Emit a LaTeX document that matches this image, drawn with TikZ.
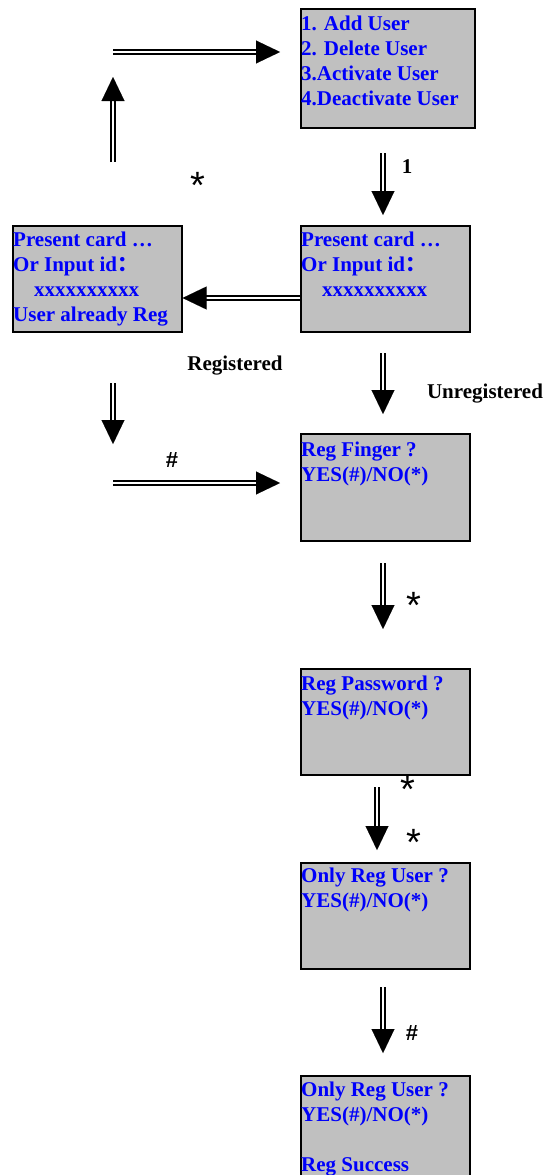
\documentclass[tikz,border=0pt]{standalone}
\usepackage{fontspec}
\setmainfont{Liberation Serif}
\newfontfamily\sansf{Liberation Sans}
\newfontfamily\cjk{Noto Sans CJK SC}
\usetikzlibrary{arrows.meta,calc}
\definecolor{boxgray}{RGB}{192,192,192}
\definecolor{txtblue}{RGB}{0,0,250}
\newcommand{\dblarr}[2]{%
  \draw[shaft, shorten >=21pt] (#1) -- (#2);
  \draw[headtip] ($(#2)!24pt!(#1)$) -- (#2);}
\tikzset{
  box/.style={draw=black, line width=1.6pt, fill=boxgray, anchor=north west, inner sep=0pt},
  boxtext/.style={anchor=base west, inner sep=0pt, align=left, text=txtblue,
    font=\bfseries\fontsize{21}{25}\selectfont},
  shaft/.style={line width=2.2pt, double=white, double distance=2.2pt, draw=black},
  headtip/.style={line width=0.01pt, -{Triangle[length=24pt,width=23pt]}, draw=black, fill=black},
  lbl/.style={inner sep=0pt, font=\bfseries\fontsize{21}{24}\selectfont},
  star/.style={inner sep=0pt, anchor=north, font=\sansf\fontsize{38}{40}\selectfont},
  hash/.style={inner sep=0pt, font=\sansf\bfseries\fontsize{22}{24}\selectfont},
}
\begin{document}
\begin{tikzpicture}[x=1pt,y=-1pt]
\useasboundingbox (0,0) rectangle (547,1175);
% boxes
\node[box, minimum width=174pt, minimum height=119pt] (menu) at (300,8) {};
\node[box, minimum width=169pt, minimum height=106pt] (cardL) at (12,225) {};
\node[box, minimum width=169pt, minimum height=106pt] (cardR) at (300,225) {};
\node[box, minimum width=169pt, minimum height=107pt] (finger) at (300,433) {};
\node[box, minimum width=169pt, minimum height=106pt] (pwd) at (300,668) {};
\node[box, minimum width=169pt, minimum height=106pt] (only) at (300,862) {};
\node[box, minimum width=169pt, minimum height=120pt] (succ) at (300,1075) {};
% box texts (anchored at the baseline of their last line)
\node[boxtext] (tmenu) at (301,105) {1. Add User\\2. Delete User\\3.Activate User\\4.Deactivate User};
\node[boxtext] (tcardL) at (13,321) {Present card …\\Or Input id{\cjk：}\\\hspace*{21pt}xxxxxxxxxx\\User already Reg};
\node[boxtext] (tcardR) at (301,296) {Present card …\\Or Input id{\cjk：}\\\hspace*{21pt}xxxxxxxxxx};
\node[boxtext] (tfinger) at (301,481) {Reg Finger ?\\YES(\#)/NO(*)};
\node[boxtext] (tpwd) at (301,715) {Reg Password ?\\YES(\#)/NO(*)};
\node[boxtext] (tonly) at (301,907) {Only Reg User ?\\YES(\#)/NO(*)};
\node[boxtext] (tsucc) at (301,1171) {Only Reg User ?\\YES(\#)/NO(*)\\[25pt]Reg Success};
% arrow end points
\coordinate (a1s) at (113,162); \coordinate (a1e) at (113,77);
\coordinate (a2s) at (113,52);  \coordinate (a2e) at (280,52);
\coordinate (a3s) at (383,153); \coordinate (a3e) at (383,215);
\coordinate (a4s) at (cardR.west |- 0,298); \coordinate (a4e) at (cardL.east |- 0,298);
\coordinate (a5s) at (383,353); \coordinate (a5e) at (383,414);
\coordinate (a6s) at (113,383); \coordinate (a6e) at (113,444);
\coordinate (a7s) at (113,483); \coordinate (a7e) at (280,483);
\coordinate (a8s) at (383,563); \coordinate (a8e) at (383,629);
\coordinate (a9s) at (377,787); \coordinate (a9e) at (377,850);
\coordinate (a10s) at (383,987); \coordinate (a10e) at (383,1053);
\dblarr{a1s}{a1e}
\dblarr{a2s}{a2e}
\dblarr{a3s}{a3e}
\dblarr{a4s}{a4e}
\dblarr{a5s}{a5e}
\dblarr{a6s}{a6e}
\dblarr{a7s}{a7e}
\dblarr{a8s}{a8e}
\dblarr{a9s}{a9e}
\dblarr{a10s}{a10e}
% labels
\node[star] (s1) at (198,172) {*};
\node[lbl] (l1) at (407,167) {1};
\node[lbl] (lreg) at (235,366) {Registered};
\node[lbl] (lunreg) at (485,394) {Unregistered};
\node[hash] (h1) at (172,460) {\#};
\node[star] (s2) at (414,592) {*};
\node[star] (s3) at (408,776) {*};
\node[star] (s4) at (414,829) {*};
\node[hash] (h2) at (412,1033) {\#};
\end{tikzpicture}
\end{document}
